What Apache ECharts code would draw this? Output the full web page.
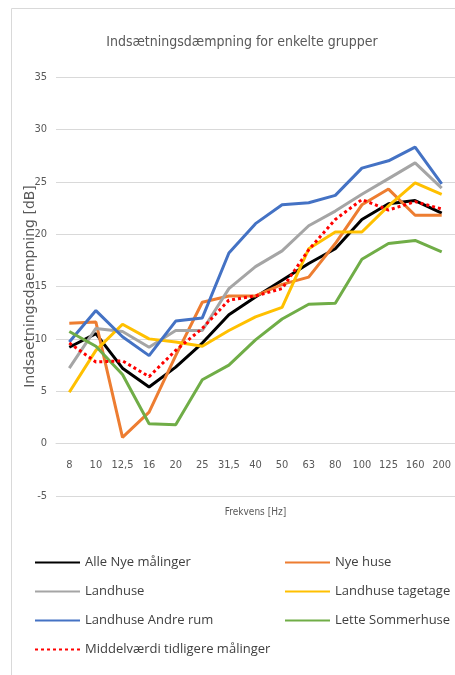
<!DOCTYPE html>
<html>
<head>
<meta charset="utf-8">
<script src="https://cdn.jsdelivr.net/npm/echarts@6/dist/echarts.min.js"></script>
<style>
  html, body { margin: 0; padding: 0; background: #fff; }
  #chart { width: 455px; height: 675px; }
</style>
</head>
<body>
<div id="chart"></div>
<script>
const frekvens = ['8', '10', '12,5', '16', '20', '25', '31,5', '40', '50', '63', '80', '100', '125', '160', '200']

const alleNye = [9.2, 10.5, 7.2, 5.4, 7.3, 9.6, 12.3, 14.0, 15.6, 17.2, 18.6, 21.4, 22.9, 23.2, 22.0]
const nyeHuse = [11.5, 11.6, 0.6, 3.0, 8.4, 13.5, 14.1, 14.1, 15.2, 15.9, 19.1, 22.8, 24.3, 21.8, 21.8]
const landhuse = [7.2, 11.0, 10.7, 9.2, 10.8, 10.8, 14.8, 16.9, 18.4, 20.8, 22.2, 23.8, 25.3, 26.8, 24.4]
const tagetage = [4.9, 8.9, 11.4, 10.0, 9.7, 9.3, 10.8, 12.1, 13.0, 18.6, 20.2, 20.2, 22.7, 24.9, 23.8]
const andreRum = [9.7, 12.7, 10.2, 8.4, 11.7, 12.0, 18.2, 21.0, 22.8, 23.0, 23.7, 26.3, 27.0, 28.3, 24.8]
const sommerhuse = [10.7, 9.3, 6.6, 1.9, 1.8, 6.1, 7.5, 9.9, 11.9, 13.3, 13.4, 17.6, 19.1, 19.4, 18.3]
const middel = [9.6, 7.8, 7.9, 6.4, 8.9, 11.0, 13.7, 14.1, 14.8, 18.5, 21.4, 23.3, 22.3, 23.1, 22.4]

const textColor = '#595959'
const gridColor = '#d9d9d9'
const narrow = 'DejaVu Sans Condensed, Liberation Sans Narrow, sans-serif'

function serie(name, data, color, type) {
  return {
    name: name,
    type: 'line',
    data: data,
    symbol: 'none',
    color: color,
    lineStyle: { width: 3, color: color, type: type || 'solid' },
    z: 2
  }
}

const myChart = echarts.init(document.getElementById('chart'))
const legendBase = {
  orient: 'vertical',
  top: 551,
  itemWidth: 45,
  itemHeight: 13,
  itemGap: 16,
  itemStyle: { opacity: 0 },
  textStyle: { color: '#404040', fontSize: 13, fontFamily: 'Open Sans, sans-serif' }
}
const option = {
  animation: false,
  title: {
    text: 'Indsætningsdæmpning for enkelte grupper',
    left: 237,
    textAlign: 'center',
    top: 30,
    textStyle: { color: textColor, fontSize: 14, fontWeight: 'normal', fontFamily: narrow }
  },
  graphic: [{
    type: 'rect',
    shape: { x: 11.5, y: 8.5, width: 460, height: 680 },
    style: { fill: 'none', stroke: gridColor, lineWidth: 1 },
    silent: true
  }],
  legend: [
    Object.assign({}, legendBase, {
      data: ['Alle Nye målinger', 'Landhuse', 'Landhuse Andre rum', 'Middelværdi tidligere målinger'],
      left: 29
    }),
    Object.assign({}, legendBase, {
      data: ['Nye huse', 'Landhuse tagetage', 'Lette Sommerhuse'],
      left: 279
    })
  ],
  grid: { left: 56, right: 0, top: 77, bottom: 179 },
  xAxis: {
    type: 'category',
    data: frekvens,
    boundaryGap: true,
    // axis crosses the y axis at 0, like the original
    offset: -53,
    name: 'Frekvens [Hz]',
    nameLocation: 'middle',
    nameGap: 64,
    nameMoveOverlap: false,
    nameTextStyle: { color: textColor, fontSize: 10, fontFamily: narrow },
    axisLine: { onZero: false, lineStyle: { color: gridColor } },
    axisTick: { show: false },
    axisLabel: { interval: 0, color: textColor, fontSize: 11, margin: 17, fontFamily: narrow }
  },
  yAxis: {
    type: 'value',
    min: -5,
    max: 35,
    interval: 5,
    name: 'Indsaetningsdaempning [dB]',
    nameLocation: 'middle',
    nameGap: 19,
    nameMoveOverlap: false,
    nameTextStyle: { color: textColor, fontSize: 14, fontFamily: 'DejaVu Sans, sans-serif' },
    axisLine: { show: false },
    axisTick: { show: false },
    axisLabel: { color: textColor, fontSize: 11, margin: 9, fontFamily: narrow },
    splitLine: { lineStyle: { color: gridColor, width: 1 } }
  },
  series: [
    serie('Alle Nye målinger', alleNye, '#000000'),
    serie('Nye huse', nyeHuse, '#ED7D31'),
    serie('Landhuse', landhuse, '#A5A5A5'),
    serie('Landhuse tagetage', tagetage, '#FFC000'),
    serie('Landhuse Andre rum', andreRum, '#4472C4'),
    serie('Lette Sommerhuse', sommerhuse, '#70AD47'),
    serie('Middelværdi tidligere målinger', middel, '#FF0000', [3, 3])
  ]
}
myChart.setOption(option)
</script>
</body>
</html>
